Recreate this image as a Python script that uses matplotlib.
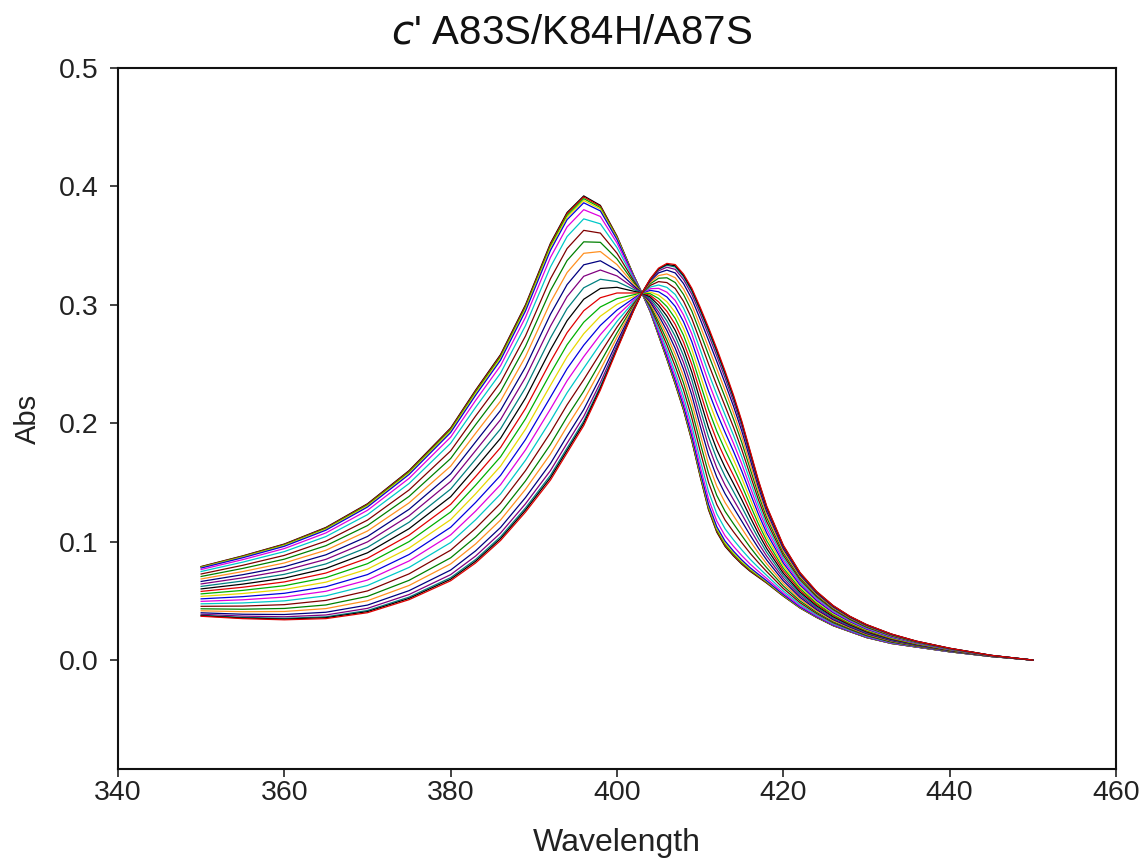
import numpy as np
import matplotlib
matplotlib.use("Agg")
import matplotlib.pyplot as plt

plt.rcParams['font.family'] = ['Liberation Sans', 'DejaVu Sans']

# Wavelength grid (nm) of the tabulated spectra
wavelength = [350, 355, 360, 365, 370, 375, 380, 383, 386, 389, 392, 394, 396,
              398, 400, 402, 403, 404, 405, 406, 407, 408, 409, 410, 411, 412,
              413, 414, 415, 416, 417, 418, 420, 422, 424, 426, 428, 430, 433,
              436, 440, 445, 450]

# Starting spectrum (Soret near 396 nm)
abs_start = [0.079, 0.088, 0.098, 0.112, 0.132, 0.160, 0.196, 0.228, 0.258,
             0.300, 0.352, 0.378, 0.392, 0.384, 0.358, 0.325, 0.310, 0.294,
             0.274, 0.254, 0.233, 0.211, 0.185, 0.155, 0.127, 0.108, 0.096,
             0.088, 0.081, 0.075, 0.070, 0.065, 0.054, 0.044, 0.036, 0.029,
             0.024, 0.019, 0.014, 0.011, 0.007, 0.003, 0.000]

# Final spectrum (Soret near 406 nm)
abs_end = [0.037, 0.035, 0.034, 0.035, 0.040, 0.051, 0.067, 0.082, 0.101,
           0.125, 0.152, 0.175, 0.198, 0.228, 0.262, 0.295, 0.310, 0.322,
           0.331, 0.335, 0.334, 0.326, 0.314, 0.298, 0.281, 0.263, 0.244,
           0.224, 0.202, 0.177, 0.152, 0.130, 0.097, 0.074, 0.058, 0.046,
           0.037, 0.030, 0.022, 0.016, 0.010, 0.004, 0.000]

# Fraction converted to the 406 nm form in each recorded scan
conversion = [0.0, 0.005, 0.012, 0.02, 0.03, 0.06, 0.10, 0.15, 0.20, 0.25,
              0.30, 0.35, 0.40, 0.45, 0.50, 0.55, 0.60, 0.65, 0.70, 0.75,
              0.80, 0.85, 0.89, 0.93, 0.96, 0.98, 0.99, 1.0]

line_colors = ['#000000', '#E00000', '#00B000', '#E8D800', '#0000E0',
               '#E000E0', '#00C8C8', '#800000', '#008000', '#FF9020',
               '#000080', '#800080', '#008080']

wl = np.array(wavelength)
a0 = np.array(abs_start)
a1 = np.array(abs_end)

fig = plt.figure(figsize=(11.43, 8.63), dpi=100)
ax = fig.add_axes([0.1032, 0.1089, 0.8732, 0.8123])

for i, f in enumerate(conversion):
    spectrum = (1 - f) * a0 + f * a1
    ax.plot(wl, spectrum, color=line_colors[i % len(line_colors)], lw=0.9)

ax.set_xlim(340, 460)
ax.set_ylim(-0.092, 0.5)
ax.set_xticks([340, 360, 380, 400, 420, 440, 460])
ax.set_yticks([0.0, 0.1, 0.2, 0.3, 0.4, 0.5])
ax.set_yticklabels(['0.0', '0.1', '0.2', '0.3', '0.4', '0.5'])
ax.tick_params(axis='both', direction='out', length=6, width=1.2,
               labelsize=20.5, colors='#222222')
ax.tick_params(axis='x', pad=2)
ax.tick_params(axis='y', pad=8)
for s in ax.spines.values():
    s.set_linewidth(1.5)
    s.set_color('#111111')

ax.set_xlabel('Wavelength', fontsize=23, color='#222222', labelpad=16)
ax.set_ylabel('Abs', fontsize=21, color='#222222', labelpad=12)
fig.text(0.5, 0.962, r"$\it{c}$' A83S/K84H/A87S", fontsize=29,
         color='#111111', ha='center', va='center')

fig.savefig('out.png', dpi=100, facecolor='white')
